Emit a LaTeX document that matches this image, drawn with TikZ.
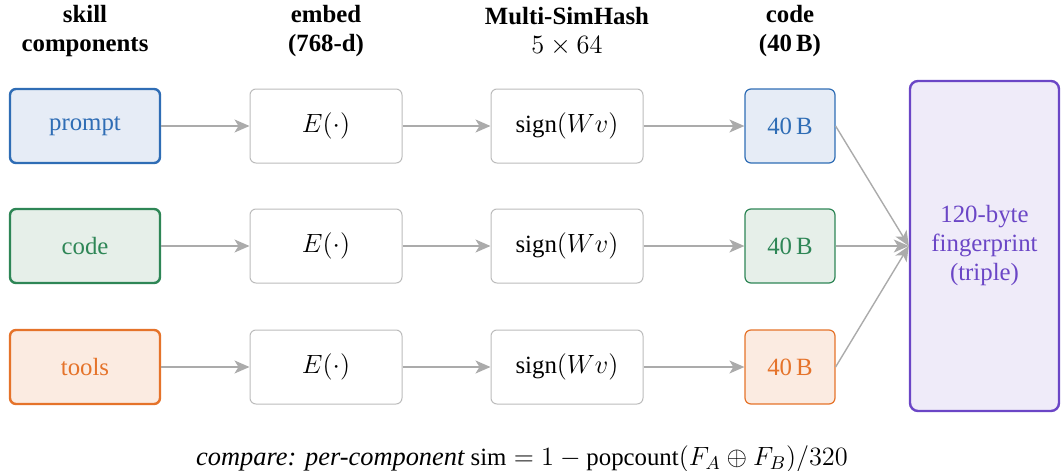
\RequirePackage{fix-cm}
\documentclass[tikz,border=0pt]{standalone}
\usepackage{fontspec}
\setmainfont{Liberation Serif}[Scale=0.94]
\newfontfamily\rulefont{Liberation Serif}
\usepackage{amsmath}
\usepackage{tikz}
\usetikzlibrary{arrows.meta, positioning}
\definecolor{promptline}{HTML}{2F6DB5}
\definecolor{promptfill}{HTML}{E6ECF6}
\definecolor{codeline}{HTML}{2E8656}
\definecolor{codefill}{HTML}{E6EFE9}
\definecolor{toolsline}{HTML}{E5732A}
\definecolor{toolsfill}{HTML}{FBEBE1}
\definecolor{fpline}{HTML}{6B46C6}
\definecolor{fpfill}{HTML}{EFEBF9}
\definecolor{linkgray}{HTML}{ABABAB}
\tikzset{%
	header/.style={
		font=\fontsize{13.2}{14.5}\selectfont\bfseries,
		align=center
	},
	component/.style={
		draw,
		rounded corners=3pt,
		line width=1.2pt,
		minimum width=75pt,
		minimum height=37pt
	},
	stagebox/.style={
		draw=linkgray!80,
		rounded corners=3pt,
		line width=0.5pt,
		minimum width=76pt,
		minimum height=37pt
	},
	bytebox/.style={
		draw,
		rounded corners=3pt,
		line width=0.6pt,
		minimum width=45pt,
		minimum height=37pt
	},
	link/.style={
		draw=linkgray,
		line width=0.7pt,
		-{Stealth[length=7.5pt,width=6.5pt,inset=2pt]}
	},
}

\begin{document}
\begin{tikzpicture}[x=0.5pt, y=-0.5pt, font=\fontsize{13.2}{14.5}\selectfont]
			\useasboundingbox (0,0) rectangle (1061,471);
			
			% Column headers
			\node[header] (hskill) at (85,31) {skill\\components};
			\node[header] (hembed) at (326,31) {embed\\(768-d)};
			\node[align=center] (hhash) at (567,31) {\textbf{Multi-SimHash}\\$5\times 64$};
			\node[header] (hcode) at (790,31) {code\\(40\,B)};
			
			% Prompt row
			\node[component, draw=promptline, fill=promptfill, text=promptline] (prompt) at (85,126) {prompt};
			\node[stagebox] (embedA) at (326,126) {$E(\cdot)$};
			\node[stagebox] (hashA) at (567,126) {$\mathrm{sign}(Wv)$};
			\node[bytebox, draw=promptline, fill=promptfill, text=promptline] (byteA) at (790,126) {40\,B};
			
			% Code row
			\node[component, draw=codeline, fill=codefill, text=codeline] (code) at (85,246) {code};
			\node[stagebox] (embedB) at (326,246) {$E(\cdot)$};
			\node[stagebox] (hashB) at (567,246) {$\mathrm{sign}(Wv)$};
			\node[bytebox, draw=codeline, fill=codefill, text=codeline] (byteB) at (790,246) {40\,B};
			
			% Tools row
			\node[component, draw=toolsline, fill=toolsfill, text=toolsline] (tools) at (85,367) {tools};
			\node[stagebox] (embedC) at (326,367) {$E(\cdot)$};
			\node[stagebox] (hashC) at (567,367) {$\mathrm{sign}(Wv)$};
			\node[bytebox, draw=toolsline, fill=toolsfill, text=toolsline] (byteC) at (790,367) {40\,B};
			
			% Fingerprint
			\node[draw=fpline, fill=fpfill, text=fpline, rounded corners=4pt, line width=1.2pt,
				minimum width=74.5pt, minimum height=165pt, align=center] (finger) at (984.5,246) {120-byte\\fingerprint\\(triple)};
			
			% Arrows
			\draw[link] (prompt) -- (embedA);
			\draw[link] (embedA) -- (hashA);
			\draw[link] (hashA) -- (byteA);
			\draw[link] (code) -- (embedB);
			\draw[link] (embedB) -- (hashB);
			\draw[link] (hashB) -- (byteB);
			\draw[link] (tools) -- (embedC);
			\draw[link] (embedC) -- (hashC);
			\draw[link] (hashC) -- (byteC);
			\draw[link] (byteA.east) -- (finger.west);
			\draw[link] (byteB.east) -- (finger.west);
			\draw[link] (byteC.east) -- (finger.west);
			
			% Similarity rule
			\node (rule) at (522,459) {{\rulefont\itshape compare: per-component} $\mathrm{sim} = 1 - \mathrm{popcount}(F_A \oplus F_B)/320$};
\end{tikzpicture}
\end{document}
